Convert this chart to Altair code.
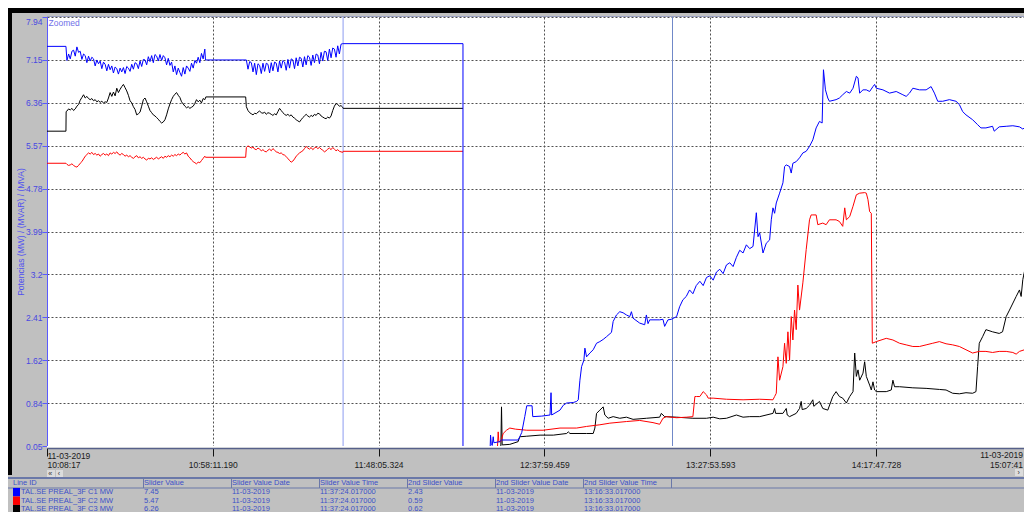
import json
import altair as alt
import pandas as pd

FONT = "Liberation Sans"

# ---------------- axis / text content ----------------
TREND_DATE = "11-03-2019"
START_CLOCK = "10:08:17"
X_TICK_CLOCKS = ["10:08:17", "10:58:11.190", "11:48:05.324", "12:37:59.459",
                 "13:27:53.593", "14:17:47.728"]
X_END_LABEL = "15:07:41"
X_MAX = 294.06  # minutes after start visible in the window

Y_MIN, Y_MAX = 0.05, 7.94
Y_TICKS = [0.05, 0.839, 1.628, 2.417, 3.206, 3.995, 4.784, 5.573, 6.362, 7.151, 7.94]
Y_TICK_LABELS = ["0.05", "0.84", "1.62", "2.41", "3.2", "3.99", "4.78", "5.57", "6.36", "7.15", "7.94"]
Y_TITLE = "Potencias (MW) / (MVAR) / (MVA)"
ZOOM_TEXT = "Zoomed"

TABLE_HEADERS = ["Line ID", "Slider Value", "Slider Value Date", "Slider Value Time",
                 "2nd Slider Value", "2nd Slider Value Date", "2nd Slider Value Time"]
LINE_IDS = ["TAL.SE  PREAL_3F C1 MW", "TAL.SE  PREAL_3F C2 MW", "TAL.SE  PREAL_3F C3 MW"]
SLIDER_VALUES = ["7.45", "5.47", "6.26"]
SLIDER_DATE = "11-03-2019"
SLIDER_TIME = "11:37:24.017000"
SLIDER2_VALUES = ["2.43", "0.59", "0.62"]
SLIDER2_DATE = "11-03-2019"
SLIDER2_TIME = "13:16:33.017000"

SERIES = ["C1", "C2", "C3"]
SERIES_COLORS = ["#0000ff", "#ff0000", "#000000"]

# ---------------- series values (minutes after start, MW) ----------------
# C1 (blue)
BLUE_HOLD_START = [(0, 7.40), (5.7, 7.40)]
BLUE_1 = [7.14, 7.26, 7.17, 7.31, 7.33, 7.22, 7.39, 7.29,
          7.31, 7.16, 7.26, 7.23, 7.10, 7.22, 7.13, 7.20,
          7.17, 7.04, 7.15, 7.08, 7.13, 6.99, 7.11, 7.07,
          6.95, 7.07, 6.97, 7.04, 6.91, 7.02, 6.99, 6.89,
          7.00, 6.93, 7.01, 6.90, 7.03, 7.00, 6.94, 7.07,
          6.98, 7.10, 7.08, 6.99, 7.13, 7.03, 7.16, 7.15,
          7.06, 7.21, 7.12, 7.23, 7.10, 7.25, 7.22, 7.13,
          7.25, 7.14, 7.23, 7.19, 7.06, 7.18, 7.05, 7.11,
          6.93, 7.04, 6.88, 7.00, 6.92, 6.85, 7.01, 6.89,
          7.04, 7.00, 6.94, 7.09, 7.00, 7.14, 7.09, 7.20,
          7.10, 7.27, 7.17, 7.35]            # every 0.5 min from 6.0
BLUE_HOLD_MID = [(47.7, 7.15), (59.9, 7.15)]
BLUE_2 = [7.15, 6.98, 7.12, 7.10, 6.93, 7.09, 6.88, 7.08,
          7.05, 6.90, 7.09, 6.94, 7.09, 7.07, 6.91, 7.10,
          6.95, 7.11, 7.09, 6.93, 7.13, 7.00, 7.14, 7.11,
          6.96, 7.16, 7.00, 7.17, 7.15, 6.99, 7.19, 7.04,
          7.20, 7.18, 7.02, 7.21, 7.06, 7.23, 7.20, 7.05,
          7.24, 7.10, 7.26, 7.24, 7.08, 7.29, 7.13, 7.31,
          7.30, 7.14, 7.35, 7.19, 7.37, 7.35, 7.20, 7.41,
          7.26, 7.44, 7.45]                  # every 0.5 min from 60.0
BLUE_HOLD_END = [(89.12, 7.45), (125.2, 7.45), (125.2, 0.05)]
BLUE_3 = [(133.4, 0.05), (133.5, 0.25), (133.7, 0.10), (134.0, 0.06), (134.3, 0.22), (134.5, 0.11),
          (136.3, 0.13), (136.8, 0.16), (141.8, 0.16), (142.3, 0.22), (142.9, 0.30), (143.8, 0.59),
          (144.4, 0.79), (146.0, 0.79), (146.2, 0.59), (148.9, 0.60), (151.4, 0.62), (151.7, 1.03),
          (151.9, 0.62), (154.4, 0.71), (155.4, 0.80), (156.4, 0.84), (158.4, 0.85), (159.4, 0.87),
          (159.9, 0.90), (160.4, 1.26), (160.9, 1.51), (161.6, 1.63), (161.9, 1.85), (162.4, 1.69),
          (163.4, 1.76), (164.4, 1.82), (165.4, 1.94), (166.4, 1.97), (167.4, 2.01), (168.4, 2.06),
          (169.9, 2.14), (170.4, 2.34), (171.4, 2.46), (172.4, 2.52), (173.4, 2.50), (174.4, 2.46),
          (175.4, 2.43), (175.9, 2.52), (176.4, 2.40), (178.4, 2.31), (179.9, 2.28), (180.4, 2.46),
          (180.9, 2.30), (181.4, 2.37), (184.4, 2.37), (185.4, 2.38), (185.9, 2.25), (186.9, 2.37),
          (187.9, 2.38), (189.5, 2.43), (190.4, 2.61), (191.4, 2.74), (192.4, 2.80), (193.4, 2.92),
          (194.4, 2.85), (195.4, 3.00), (196.5, 3.08), (197.5, 3.00), (198.5, 3.15), (199.5, 3.18),
          (200.5, 3.10), (201.5, 3.25), (202.5, 3.30), (203.5, 3.22), (204.5, 3.38), (205.5, 3.42),
          (206.5, 3.35), (207.5, 3.52), (208.5, 3.65), (209.5, 3.60), (210.5, 3.75), (211.5, 3.68),
          (212.5, 3.72), (213.5, 4.34), (214.0, 3.90), (214.5, 3.97), (215.5, 3.60), (216.5, 3.78),
          (217.5, 3.84), (218.0, 4.21), (218.5, 4.43), (219.0, 4.33), (219.5, 4.52), (220.5, 4.70),
          (221.5, 4.89), (222.0, 5.19), (222.5, 5.22), (223.5, 5.19), (224.0, 5.07), (224.5, 5.25),
          (225.5, 5.28), (226.5, 5.35), (227.5, 5.44), (228.5, 5.47), (229.5, 5.56), (230.5, 5.68),
          (231.5, 5.90), (232.5, 6.02), (233.3, 5.99), (233.7, 6.97), (234.3, 6.60), (235.0, 6.45),
          (235.5, 6.39), (237.5, 6.42), (238.5, 6.45), (239.5, 6.51), (240.6, 6.57), (241.6, 6.54),
          (242.6, 6.63), (243.6, 6.85), (244.1, 6.82), (244.6, 6.54), (245.6, 6.60), (246.6, 6.60),
          (247.6, 6.57), (248.6, 6.66), (249.1, 6.70), (249.6, 6.63), (251.6, 6.60), (253.6, 6.54),
          (255.6, 6.57), (257.6, 6.51), (258.6, 6.48), (259.6, 6.54), (260.6, 6.63), (262.6, 6.60),
          (264.6, 6.60), (266.1, 6.66), (267.1, 6.54), (268.1, 6.39), (269.6, 6.39), (271.6, 6.42),
          (273.6, 6.39), (274.6, 6.33), (275.6, 6.20), (276.6, 6.14), (278.6, 6.05), (280.1, 5.96),
          (281.1, 5.90), (282.6, 5.90), (284.6, 5.93), (285.1, 5.84), (286.6, 5.92), (288.7, 5.93),
          (290.7, 5.94), (292.7, 5.92), (293.7, 5.88), (294.7, 5.92), (296.3, 5.99)]

# C2 (red)
RED_HOLD_START = [(0, 5.25), (5.7, 5.25)]
RED_1 = [5.23, 5.21, 5.22, 5.24, 5.21, 5.19, 5.18, 5.21,
         5.25, 5.28, 5.33, 5.38, 5.41, 5.44, 5.42, 5.45,
         5.41, 5.43, 5.40, 5.42, 5.38, 5.41, 5.43, 5.40,
         5.42, 5.39, 5.44, 5.42, 5.45, 5.43, 5.46, 5.42,
         5.40, 5.43, 5.41, 5.38, 5.40, 5.37, 5.39, 5.36,
         5.34, 5.37, 5.39, 5.35, 5.37, 5.34, 5.36, 5.33,
         5.31, 5.34, 5.33, 5.35, 5.32, 5.34, 5.36, 5.33,
         5.35, 5.37, 5.34, 5.38, 5.36, 5.39, 5.37, 5.40,
         5.38, 5.41, 5.39, 5.42, 5.40, 5.43, 5.45, 5.42,
         5.44, 5.38, 5.35, 5.31, 5.28, 5.26, 5.24, 5.27,
         5.26, 5.30, 5.34, 5.38]             # every 0.5 min from 6.0
RED_HOLD_MID = [(47.7, 5.36), (59.8, 5.36)]
RED_2 = [5.54, 5.57, 5.55, 5.53, 5.55, 5.51, 5.50, 5.53,
         5.51, 5.48, 5.50, 5.47, 5.46, 5.49, 5.51, 5.48,
         5.52, 5.49, 5.46, 5.45, 5.43, 5.44, 5.41, 5.40,
         5.37, 5.34, 5.30, 5.27, 5.29, 5.33, 5.38, 5.41,
         5.44, 5.46, 5.48, 5.52, 5.56, 5.53, 5.51, 5.54,
         5.50, 5.53, 5.55, 5.52, 5.54, 5.51, 5.49, 5.46,
         5.48, 5.51, 5.53, 5.50, 5.54, 5.51, 5.48, 5.50,
         5.47, 5.46, 5.45]                   # every 0.5 min from 60.0
RED_HOLD_END = [(89.12, 5.47), (125.2, 5.47)]
RED_3 = [(135.6, 0.05), (135.8, 0.31), (136.0, 0.13), (136.6, 0.13), (137.3, 0.28), (138.3, 0.34),
         (139.3, 0.38), (141.0, 0.36), (144.4, 0.34), (149.3, 0.34), (154.4, 0.38), (159.4, 0.38),
         (162.4, 0.41), (166.4, 0.44), (169.4, 0.47), (174.4, 0.50), (178.4, 0.52), (182.4, 0.48),
         (184.4, 0.45), (185.4, 0.56), (186.4, 0.59), (189.5, 0.57), (192.5, 0.58), (194.4, 0.59),
         (195.0, 0.96), (195.5, 0.96), (196.5, 0.96), (197.5, 1.05), (198.5, 0.99), (199.0, 0.93),
         (200.5, 0.93), (204.5, 0.91), (209.5, 0.90), (214.5, 0.91), (218.5, 0.90), (219.0, 0.96),
         (219.5, 1.02), (220.0, 1.69), (220.5, 1.26), (221.5, 1.51), (222.0, 1.94), (222.5, 1.57),
         (223.0, 2.15), (223.5, 1.63), (224.0, 2.43), (224.5, 2.00), (225.0, 2.55), (225.5, 2.19),
         (226.0, 3.01), (226.5, 2.55), (227.5, 3.05), (228.5, 3.66), (229.5, 4.21), (230.0, 4.30),
         (230.5, 4.30), (231.5, 4.30), (232.0, 4.12), (233.5, 4.15), (234.5, 4.12), (235.5, 4.21),
         (237.5, 4.21), (238.5, 4.18), (239.5, 4.09), (240.1, 4.43), (240.6, 4.21), (241.6, 4.27),
         (242.6, 4.46), (243.6, 4.67), (244.6, 4.70), (246.1, 4.71), (246.6, 4.70), (247.1, 4.58),
         (247.6, 4.36), (248.1, 4.33), (248.4, 1.94), (249.6, 1.97), (252.6, 2.03), (254.6, 2.00),
         (256.6, 1.94), (258.6, 1.91), (260.6, 1.88), (262.6, 1.88), (264.6, 1.91), (266.6, 1.94),
         (268.6, 1.97), (270.6, 1.93), (272.6, 1.91), (274.6, 1.88), (276.6, 1.82), (278.6, 1.76),
         (280.6, 1.79), (282.6, 1.79), (284.6, 1.77), (286.6, 1.79), (288.7, 1.79), (290.7, 1.77),
         (291.7, 1.74), (292.7, 1.79), (294.7, 1.83), (295.7, 1.91), (296.3, 1.83)]

# C3 (black)
BLACK_HOLD_START = [(0, 5.84), (5.7, 5.84), (5.76, 6.20)]
BLACK_1 = [6.21, 6.25, 6.23, 6.26, 6.22, 6.25, 6.30, 6.33,
           6.41, 6.46, 6.51, 6.45, 6.48, 6.44, 6.42, 6.44,
           6.40, 6.42, 6.38, 6.40, 6.37, 6.39, 6.36, 6.38,
           6.37, 6.45, 6.55, 6.48, 6.56, 6.49, 6.63, 6.55,
           6.61, 6.66, 6.70, 6.64, 6.58, 6.50, 6.40, 6.36,
           6.29, 6.24, 6.14, 6.16, 6.19, 6.30, 6.42, 6.45,
           6.38, 6.30, 6.22, 6.18, 6.14, 6.12, 6.09, 6.06,
           6.02, 5.99, 6.01, 6.05, 6.14, 6.25, 6.34, 6.42,
           6.48, 6.52, 6.55, 6.50, 6.46, 6.38, 6.34, 6.30,
           6.27, 6.29, 6.26, 6.28, 6.30, 6.35, 6.42, 6.38,
           6.41, 6.36, 6.44, 6.42]           # every 0.5 min from 6.0
BLACK_HOLD_MID = [(47.7, 6.45), (47.8, 6.47), (59.8, 6.47)]
BLACK_2 = [6.29, 6.22, 6.18, 6.16, 6.14, 6.17, 6.16, 6.19,
           6.21, 6.18, 6.17, 6.19, 6.15, 6.18, 6.17, 6.15,
           6.13, 6.16, 6.14, 6.20, 6.26, 6.22, 6.18, 6.15,
           6.13, 6.15, 6.12, 6.14, 6.10, 6.08, 6.05, 6.03,
           6.01, 6.05, 6.09, 6.12, 6.15, 6.12, 6.10, 6.13,
           6.11, 6.15, 6.13, 6.17, 6.16, 6.12, 6.10, 6.08,
           6.07, 6.10, 6.08, 6.12, 6.22, 6.30, 6.35, 6.33,
           6.30, 6.31, 6.28]                 # every 0.5 min from 60.0
BLACK_HOLD_END = [(89.12, 6.26), (125.2, 6.26)]
BLACK_3 = [(136.6, 0.05), (136.8, 0.77), (137.0, 0.07), (139.3, 0.08), (141.8, 0.13), (142.3, 0.22),
           (144.4, 0.23), (148.4, 0.25), (152.4, 0.25), (156.4, 0.28), (156.9, 0.31), (157.4, 0.28),
           (162.4, 0.28), (164.4, 0.28), (164.9, 0.38), (165.4, 0.65), (166.4, 0.71), (167.4, 0.77),
           (167.9, 0.62), (168.9, 0.56), (170.4, 0.59), (172.4, 0.56), (174.4, 0.58), (176.4, 0.54),
           (180.4, 0.56), (184.4, 0.58), (184.9, 0.65), (185.9, 0.59), (189.5, 0.58), (194.4, 0.56),
           (198.5, 0.56), (200.5, 0.58), (202.5, 0.55), (204.5, 0.56), (207.5, 0.62), (209.5, 0.58),
           (211.5, 0.59), (214.5, 0.59), (218.5, 0.65), (219.0, 0.74), (219.3, 0.65), (221.5, 0.65),
           (222.5, 0.74), (222.8, 0.62), (223.5, 0.59), (225.5, 0.65), (226.5, 0.74), (227.0, 0.87),
           (227.3, 0.72), (228.5, 0.74), (229.5, 0.80), (230.5, 0.90), (230.8, 0.78), (232.5, 0.87),
           (233.5, 0.74), (235.0, 0.71), (236.5, 0.96), (237.5, 1.05), (238.5, 0.96), (239.5, 0.93),
           (240.6, 0.84), (241.6, 0.96), (242.6, 1.05), (243.1, 1.76), (243.6, 1.33), (244.1, 1.45),
           (244.6, 1.26), (245.6, 1.39), (246.1, 1.60), (246.6, 1.33), (247.6, 1.17), (248.1, 1.08),
           (248.6, 1.23), (249.1, 1.08), (249.6, 1.05), (252.6, 1.05), (254.1, 1.08), (254.6, 1.26),
           (255.1, 1.14), (256.6, 1.14), (260.6, 1.12), (264.6, 1.11), (268.6, 1.09), (270.6, 1.08),
           (272.6, 1.02), (274.6, 1.01), (276.6, 1.03), (278.6, 1.02), (279.6, 1.05), (280.1, 1.51),
           (280.6, 1.94), (281.6, 2.06), (282.6, 2.19), (284.6, 2.15), (286.6, 2.12), (287.6, 2.15),
           (288.7, 2.43), (289.7, 2.55), (291.7, 2.80), (292.7, 2.92), (293.2, 2.80), (293.7, 3.11),
           (294.7, 3.41), (295.7, 3.72), (296.3, 3.78)]


# ---------------- helpers ----------------
def clock_seconds(s):
    h, m, sec = s.split(":")
    return int(h) * 3600 + int(m) * 60 + float(sec)


def clock_to_min(s):
    return (clock_seconds(s) - clock_seconds(START_CLOCK)) / 60.0


def grid(t0, dt, values):
    return [(t0 + i * dt, v) for i, v in enumerate(values)]


pieces = {
    "C1": [BLUE_HOLD_START + grid(6.0, 0.5, BLUE_1) + BLUE_HOLD_MID + grid(60.0, 0.5, BLUE_2) + BLUE_HOLD_END,
           BLUE_3],
    "C2": [RED_HOLD_START + grid(6.0, 0.5, RED_1) + RED_HOLD_MID + grid(60.0, 0.5, RED_2) + RED_HOLD_END,
           RED_3],
    "C3": [BLACK_HOLD_START + grid(6.0, 0.5, BLACK_1) + BLACK_HOLD_MID + grid(60.0, 0.5, BLACK_2) + BLACK_HOLD_END,
           BLACK_3],
}
rows = []
for s in SERIES:
    for p, pts in enumerate(pieces[s]):
        for i, (t, v) in enumerate(pts):
            rows.append({"series": s, "piece": p, "i": i, "t": t, "v": v})
df = pd.DataFrame(rows)

X_TICKS = [clock_to_min(c) for c in X_TICK_CLOCKS]
X_STEP = X_TICKS[1]
x_labels = [[TREND_DATE, X_TICK_CLOCKS[0]]] + [["", c] for c in X_TICK_CLOCKS[1:]]
x_label_expr = json.dumps(x_labels) + "[round(datum.value / %f)]" % X_STEP
y_label_expr = json.dumps(Y_TICK_LABELS) + "[round((datum.value - %f) / %f)]" % (Y_MIN, Y_TICKS[1] - Y_TICKS[0])

# ---------------- layout / style ----------------
W, H = 977, 429
GRID_COLOR = "#505050"
BLUE_UI = "#4848e0"
TABLE_TXT = "#3c50c8"
TABLE_LINE = "#6a78a8"
LABEL_TOP = 434          # top of the x tick labels, plot coords

x_axis = alt.Axis(values=X_TICKS, labelExpr=x_label_expr, title=None,
                  grid=True, gridColor=GRID_COLOR, gridDash=[2, 2], gridWidth=1,
                  domainColor="#56608a", domainWidth=1.5, offset=2,
                  tickColor="#111111", tickSize=8, tickWidth=1,
                  labelFont=FONT, labelFontSize=8.5, labelColor="#1a1a1a",
                  labelPadding=-5, labelFlush=True, labelOverlap=False,
                  labelLineHeight=9.5, labelBaseline="top")
y_axis = alt.Axis(values=Y_TICKS, labelExpr=y_label_expr, title=Y_TITLE,
                  titleColor="#5050f0", titleFont=FONT, titleFontSize=8.5,
                  titleFontWeight="normal", titleAngle=270, titleX=-23.5, titleY=H / 2,
                  titleAlign="center", titleBaseline="alphabetic",
                  grid=True, gridColor=GRID_COLOR, gridDash=[2, 2], gridWidth=1,
                  domainColor="#5a5aff", domainWidth=1, tickColor="#5a5aff",
                  tickSize=5, tickWidth=1, labelFont=FONT, labelFontSize=8.5,
                  labelColor=BLUE_UI, labelPadding=0, labelOverlap=False,
                  labelBaseline={"condition": {"test": "datum.value > 7.9", "value": "top"},
                                 "value": "middle"})

X = alt.X("t:Q", scale=alt.Scale(domain=[0, X_MAX], nice=False, zero=False), axis=x_axis)
Y = alt.Y("v:Q", scale=alt.Scale(domain=[Y_MIN, Y_MAX], nice=False, zero=False), axis=y_axis)

cursor_df = pd.DataFrame({"t": [clock_to_min(SLIDER_TIME[:12]), clock_to_min(SLIDER2_TIME[:12])],
                          "c": ["#8c9cf0", "#7088c8"]})
cursors = alt.Chart(cursor_df).mark_rule(strokeWidth=1).encode(
    x=X, color=alt.Color("c:N", scale=None))

line_layers = []
for s, col in [("C3", SERIES_COLORS[2]), ("C2", SERIES_COLORS[1]), ("C1", SERIES_COLORS[0])]:
    line_layers.append(
        alt.Chart(df[df.series == s]).mark_line(color=col, strokeWidth=1, clip=True).encode(
            x=X, y=Y, detail="piece:N", order="i:Q"))

# closing label of the time axis, flush with the right end of the window
end_date = alt.Chart(pd.DataFrame({"t": [X_MAX], "lab": [TREND_DATE]})).mark_text(
    align="right", baseline="top", font=FONT, fontSize=8.5, color="#1a1a1a", dx=-1).encode(
    x=X, y=alt.value(LABEL_TOP), text="lab:N")
end_time = alt.Chart(pd.DataFrame({"t": [X_MAX], "lab": [X_END_LABEL]})).mark_text(
    align="right", baseline="top", font=FONT, fontSize=8.5, color="#1a1a1a", dx=-1).encode(
    x=X, y=alt.value(LABEL_TOP + 9.5), text="lab:N")

plot = alt.layer(cursors, *line_layers, end_date, end_time)

# ---------------- frame & table (plot-pixel coordinates) ----------------
LEFT, TOP = -39, -9
COL_SEP = [96, 184, 272, 360, 448, 536, 624]
COL_TXT = [-34, 97, 185, 273, 361, 449, 537]
HDR_TOP, HDR_BOT = 460, 471
HDR_Y = 465.7
ROW_Y = [475.2, 483.7, 492.2]
ROW_H = 8.5

rects = [
    dict(x=LEFT, x2=W, y=TOP, y2=TOP + 5, fill="#000000"),
    dict(x=LEFT, x2=LEFT + 4, y=TOP, y2=458, fill="#000000"),
    dict(x=0, x2=W, y=-1, y2=0, fill="#9aa0c0"),
    dict(x=0, x2=W, y=H, y2=H + 1.5, fill="#ffffff"),
    dict(x=LEFT, x2=W, y=HDR_TOP, y2=HDR_TOP + 2, fill=TABLE_LINE),
    dict(x=LEFT, x2=W, y=HDR_BOT - 0.5, y2=HDR_BOT + 0.5, fill=TABLE_LINE),
    dict(x=0, x2=8, y=453, y2=460, fill="#dcdcdc"),
    dict(x=9, x2=16, y=453, y2=460, fill="#dcdcdc"),
    dict(x=W - 9, x2=W - 1, y=452, y2=459, fill="#dcdcdc"),
]
for sx in COL_SEP:
    rects.append(dict(x=sx, x2=sx + 1, y=HDR_TOP, y2=HDR_BOT, fill=TABLE_LINE))
for r, col in enumerate(SERIES_COLORS):
    rects.append(dict(x=-34, x2=-27, y=ROW_Y[r] - ROW_H / 2, y2=ROW_Y[r] + ROW_H / 2, fill=col))
rect_df = pd.DataFrame(rects)

texts = []
for c, h in enumerate(TABLE_HEADERS):
    texts.append(dict(x=COL_TXT[c], y=HDR_Y, label=h, col=TABLE_TXT, size=7.5))
for r in range(3):
    cells = [LINE_IDS[r], SLIDER_VALUES[r], SLIDER_DATE, SLIDER_TIME,
             SLIDER2_VALUES[r], SLIDER2_DATE, SLIDER2_TIME]
    for c, cell in enumerate(cells):
        texts.append(dict(x=(-26 if c == 0 else COL_TXT[c]), y=ROW_Y[r], label=cell,
                          col=TABLE_TXT, size=7.5))
texts.append(dict(x=1.5, y=6, label=ZOOM_TEXT, col="#7070e8", size=8.5))
texts.append(dict(x=1.2, y=456.5, label="«", col="#303030", size=7))
texts.append(dict(x=10.8, y=456.5, label="‹", col="#303030", size=7))
texts.append(dict(x=W - 6.5, y=455.5, label="›", col="#303030", size=7))
text_df = pd.DataFrame(texts)

FX = alt.X("x:Q", scale=alt.Scale(domain=[0, W], range=[0, W], nice=False, zero=False), axis=None)
FY = alt.Y("y:Q", scale=alt.Scale(domain=[0, H], range=[0, H], nice=False, zero=False), axis=None)

frame_rects = alt.Chart(rect_df).mark_rect().encode(
    x=FX, x2="x2:Q", y=FY, y2="y2:Q", color=alt.Color("fill:N", scale=None))
frame_text = alt.Chart(text_df).mark_text(align="left", baseline="middle", font=FONT).encode(
    x=FX, y=FY, text="label:N", color=alt.Color("col:N", scale=None),
    size=alt.Size("size:Q", scale=None))

frame = alt.layer(frame_rects, frame_text)

chart = alt.layer(plot, frame).resolve_scale(
    x="independent", y="independent", color="independent"
).properties(
    width=W, height=H,
    autosize=alt.AutoSizeParams(type="none"),
    padding={"left": 39, "top": 9, "right": 0, "bottom": 66},
    background="#c0c0c0",
).configure_view(fill="#ffffff", stroke=None)

chart.save("out.html", embed_options={"renderer": "svg", "actions": False})
